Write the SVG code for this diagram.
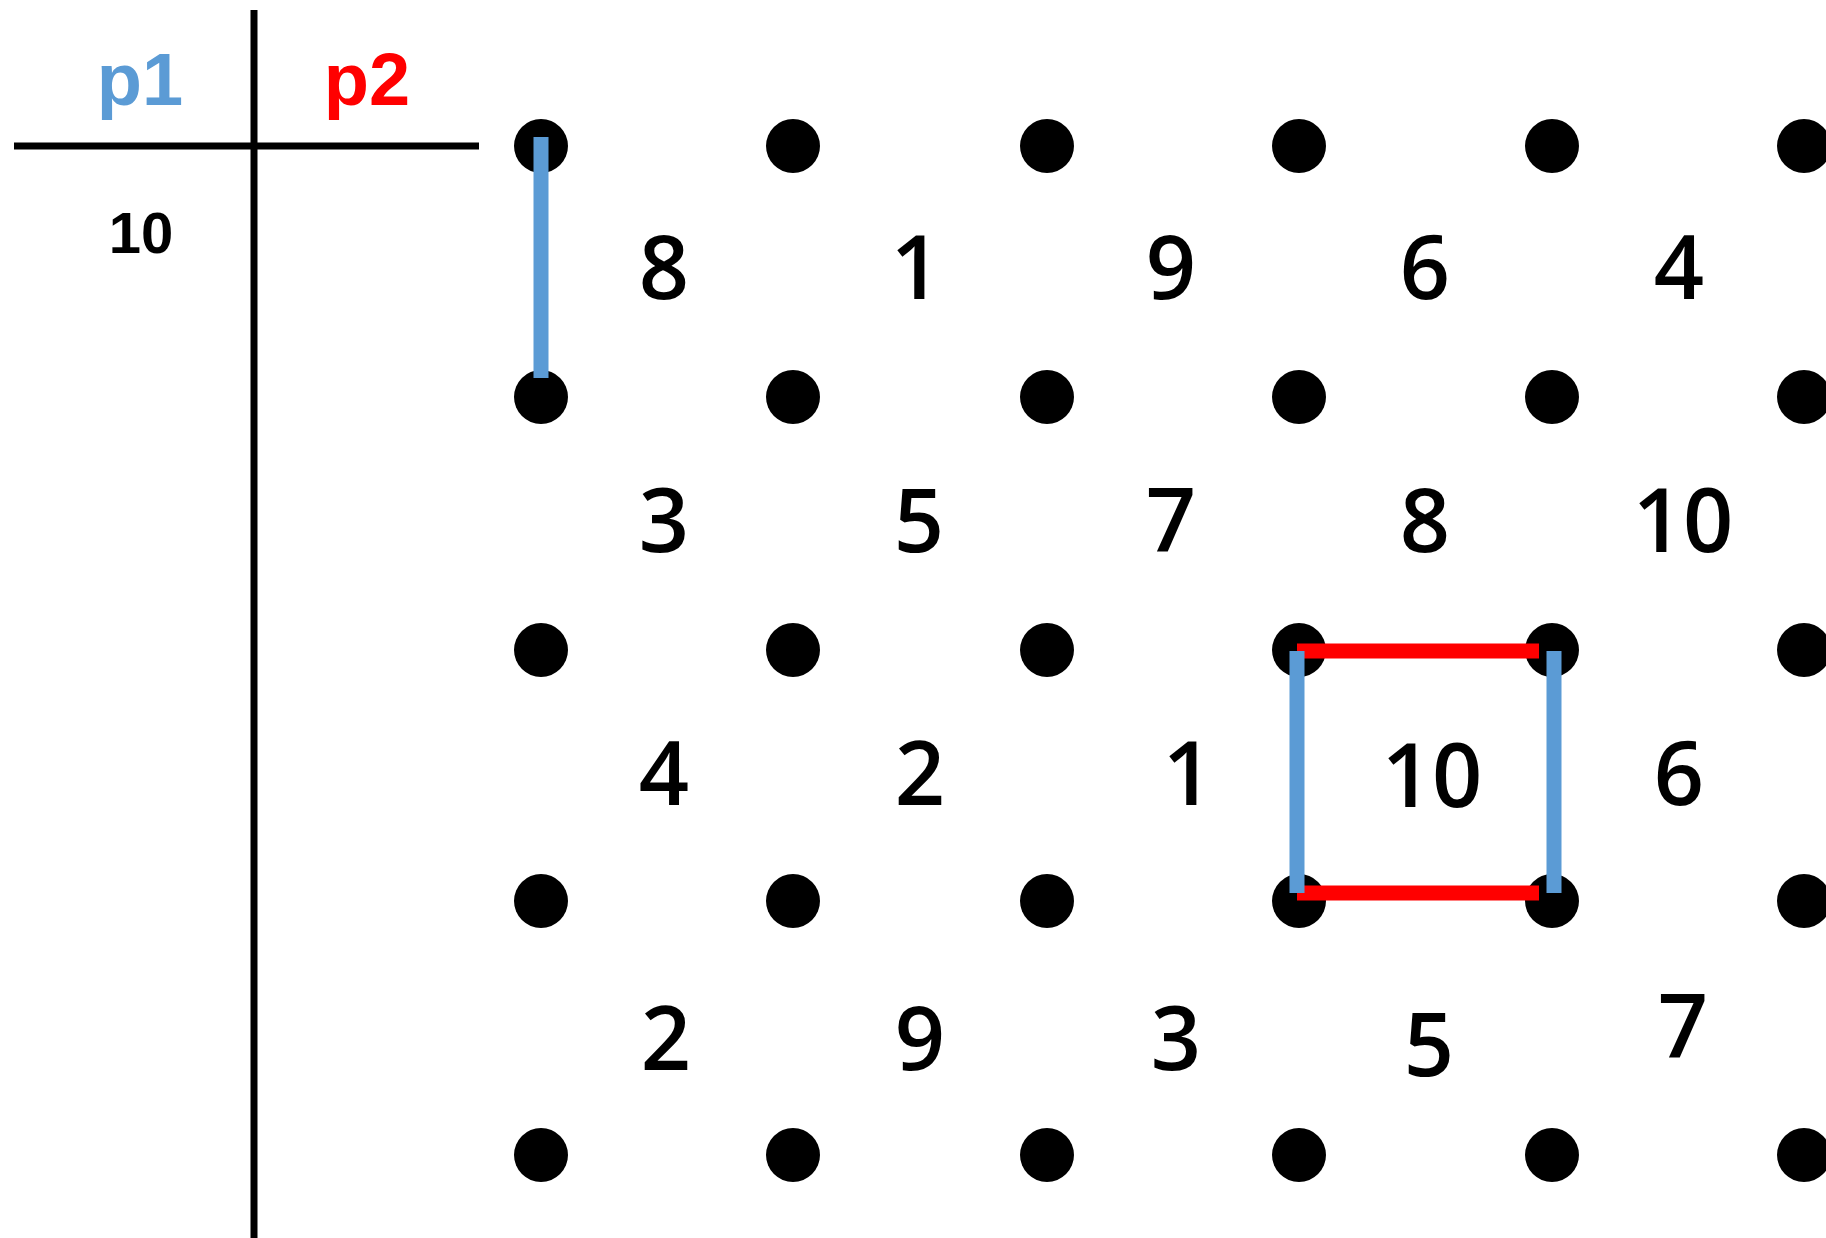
<svg xmlns="http://www.w3.org/2000/svg" width="1826" height="1238" viewBox="0 0 1826 1238">
<style>
.dot{fill:#000}
.num{font-family:"Open Sans","DejaVu Sans",sans-serif;font-weight:600;font-size:88px;fill:#000;text-anchor:middle}
.hdr{font-family:"Liberation Sans",Arial,sans-serif;font-weight:bold;text-anchor:middle}
.blue{stroke:#5B9BD5;stroke-width:15}
.red{stroke:#FF0000;stroke-width:15}
.rule{stroke:#000;stroke-width:7}
</style>
<rect width="1826" height="1238" fill="#fff"/>
<g id="table">
<line class="rule" x1="14" y1="146" x2="479" y2="146"/>
<line class="rule" x1="254" y1="10" x2="254" y2="1238"/>
<text class="hdr" x="140" y="105" font-size="74" fill="#5B9BD5">p1</text>
<text class="hdr" x="367" y="105" font-size="74" fill="#FF0000">p2</text>
<text class="hdr" x="141" y="253" font-size="58" fill="#000">10</text>
</g>
<g id="dots">
<circle class="dot" cx="541" cy="146" r="27"/><circle class="dot" cx="793" cy="146" r="27"/><circle class="dot" cx="1047" cy="146" r="27"/><circle class="dot" cx="1299" cy="146" r="27"/><circle class="dot" cx="1552" cy="146" r="27"/><circle class="dot" cx="1804" cy="146" r="27"/>
<circle class="dot" cx="541" cy="397" r="27"/><circle class="dot" cx="793" cy="397" r="27"/><circle class="dot" cx="1047" cy="397" r="27"/><circle class="dot" cx="1299" cy="397" r="27"/><circle class="dot" cx="1552" cy="397" r="27"/><circle class="dot" cx="1804" cy="397" r="27"/>
<circle class="dot" cx="541" cy="650" r="27"/><circle class="dot" cx="793" cy="650" r="27"/><circle class="dot" cx="1047" cy="650" r="27"/><circle class="dot" cx="1299" cy="650" r="27"/><circle class="dot" cx="1552" cy="650" r="27"/><circle class="dot" cx="1804" cy="650" r="27"/>
<circle class="dot" cx="541" cy="901" r="27"/><circle class="dot" cx="793" cy="901" r="27"/><circle class="dot" cx="1047" cy="901" r="27"/><circle class="dot" cx="1299" cy="901" r="27"/><circle class="dot" cx="1552" cy="901" r="27"/><circle class="dot" cx="1804" cy="901" r="27"/>
<circle class="dot" cx="541" cy="1155" r="27"/><circle class="dot" cx="793" cy="1155" r="27"/><circle class="dot" cx="1047" cy="1155" r="27"/><circle class="dot" cx="1299" cy="1155" r="27"/><circle class="dot" cx="1552" cy="1155" r="27"/><circle class="dot" cx="1804" cy="1155" r="27"/>
</g>
<g id="numbers">
<text class="num" x="664" y="299">8</text><text class="num" x="916" y="299">1</text><text class="num" x="1171" y="299">9</text><text class="num" x="1425" y="299">6</text><text class="num" x="1679" y="299">4</text>
<text class="num" x="664" y="552">3</text><text class="num" x="919" y="552">5</text><text class="num" x="1171" y="552">7</text><text class="num" x="1425" y="552">8</text><text class="num" x="1683" y="552">10</text>
<text class="num" x="664" y="805">4</text><text class="num" x="920" y="805">2</text><text class="num" x="1188" y="805">1</text><text class="num" x="1432" y="807">10</text><text class="num" x="1679" y="805">6</text>
<text class="num" x="666" y="1070">2</text><text class="num" x="920" y="1070">9</text><text class="num" x="1176" y="1070">3</text><text class="num" x="1429" y="1076">5</text><text class="num" x="1683" y="1058">7</text>
</g>
<g id="connectors">
<line class="blue" x1="541" y1="137" x2="541" y2="378"/>
<line class="red" x1="1297" y1="651" x2="1539" y2="651"/>
<line class="red" x1="1297" y1="893" x2="1539" y2="893"/>
<line class="blue" x1="1297" y1="651" x2="1297" y2="893"/>
<line class="blue" x1="1554" y1="651" x2="1554" y2="893"/>
</g>
</svg>
